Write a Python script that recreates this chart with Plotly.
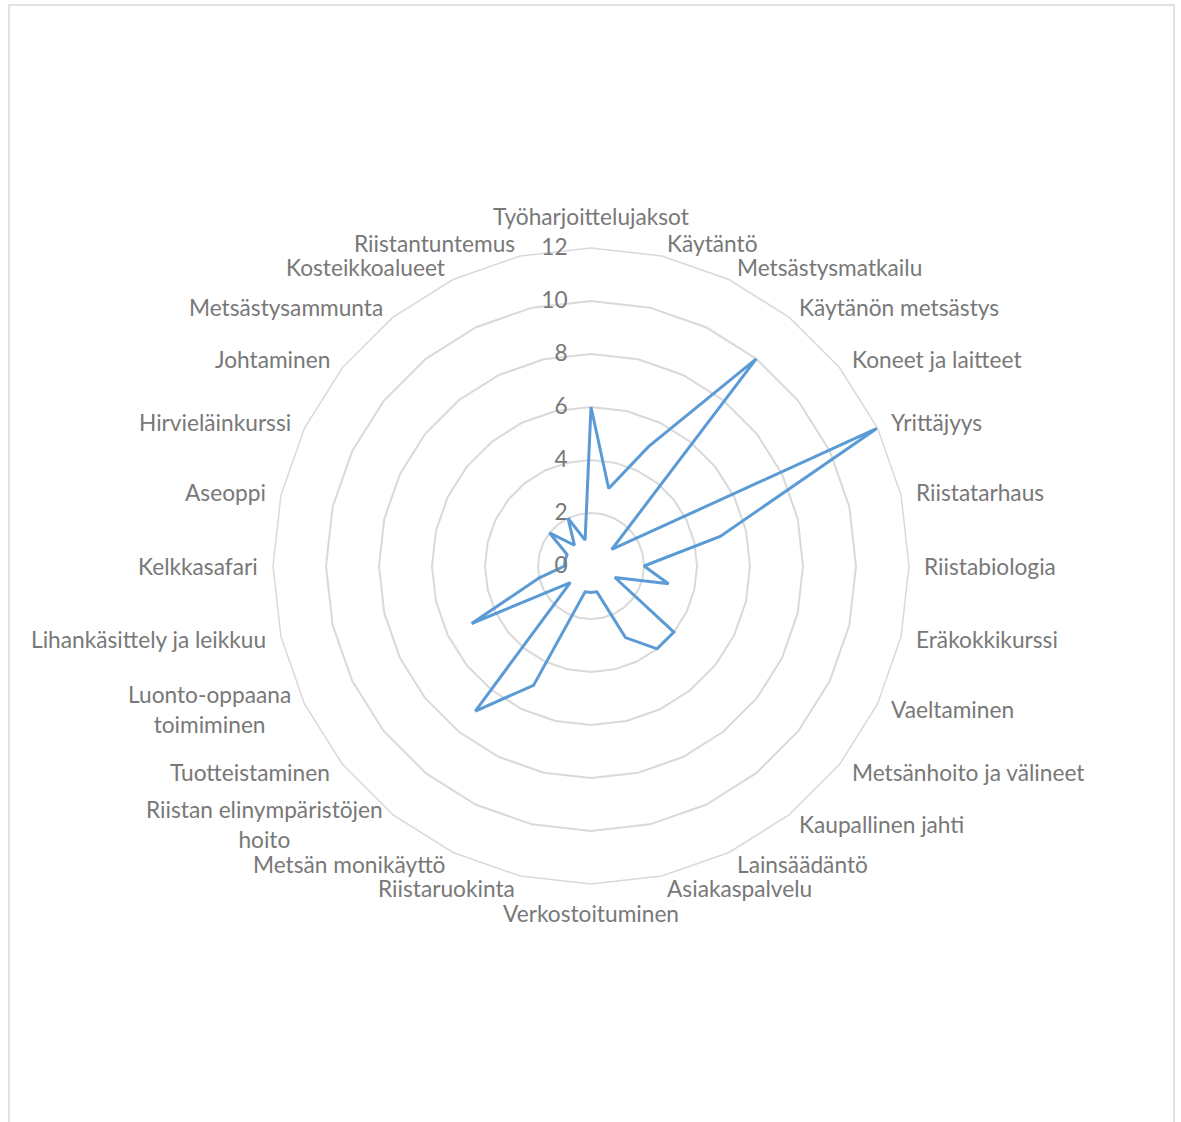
import math
import plotly.graph_objects as go

categories = [
    "Työharjoittelujaksot", "Käytäntö", "Metsästysmatkailu", "Käytänön metsästys",
    "Koneet ja laitteet", "Yrittäjyys", "Riistatarhaus", "Riistabiologia",
    "Eräkokkikurssi", "Vaeltaminen", "Metsänhoito ja välineet", "Kaupallinen jahti",
    "Lainsäädäntö", "Asiakaspalvelu", "Verkostoituminen", "Riistaruokinta",
    "Metsän monikäyttö", "Riistan elinympäristöjen<br>hoito", "Tuotteistaminen",
    "Luonto-oppaana<br>toimiminen", "Lihankäsittely ja leikkuu", "Kelkkasafari",
    "Aseoppi", "Hirvieläinkurssi", "Johtaminen", "Metsästysammunta",
    "Kosteikkoalueet", "Riistantuntemus",
]
values = [6, 3, 5, 10, 1, 12, 5, 2, 3, 1, 4, 4, 3, 1, 1, 1, 5, 7, 1, 5, 2, 1, 1, 1, 2, 1, 2, 1]
radial_ticks = [0, 2, 4, 6, 8, 10, 12]

W, H = 1181, 1122
cx, cy, R = 591, 566, 318
text_color = "#787878"
font_family = "Lato, 'Open Sans', sans-serif"
label_size = 22.7

fig = go.Figure()
fig.add_trace(go.Scatterpolar(
    r=values + values[:1],
    theta=categories + categories[:1],
    mode="lines",
    line=dict(color="#5b9bd5", width=3),
    showlegend=False,
    hoverinfo="skip",
))

# category labels placed just outside the outer polygon, Excel-style
annotations = []
n = len(categories)
for i, cat in enumerate(categories):
    ang = 360.0 * i / n
    a = math.radians(ang)
    if i == 0:
        d, xa, ya = 16, "center", "bottom"
    elif 2 * i == n:
        d, xa, ya = 14, "center", "top"
    else:
        d = 13
        xa = "left" if ang < 180 else "right"
        ya = "middle"
    px = cx + (R + d) * math.sin(a)
    py = cy - (R + d) * math.cos(a)
    annotations.append(dict(
        text=cat, x=px / W, y=1 - py / H, xref="paper", yref="paper",
        xanchor=xa, yanchor=ya, align="center", showarrow=False,
        font=dict(size=label_size, color=text_color, family=font_family),
    ))

fig.update_layout(
    width=W, height=H,
    margin=dict(l=0, r=0, t=0, b=0),
    paper_bgcolor="white",
    plot_bgcolor="white",
    font=dict(family=font_family, size=label_size, color=text_color),
    polar=dict(
        domain=dict(x=[(cx - R) / W, (cx + R) / W],
                    y=[(H - cy - R) / H, (H - cy + R) / H]),
        bgcolor="white",
        gridshape="linear",
        angularaxis=dict(
            direction="clockwise",
            rotation=90,
            showgrid=False,
            showline=True,
            linecolor="#d9d9d9",
            linewidth=1.5,
            ticks="",
            showticklabels=False,
        ),
        radialaxis=dict(
            range=[0, 12],
            tickvals=radial_ticks,
            ticktext=[str(v) for v in radial_ticks],
            showline=False,
            ticks="outside",
            ticklen=15,
            tickcolor="rgba(0,0,0,0)",
            tickangle=90,
            angle=90,
            side="counterclockwise",
            gridcolor="#d9d9d9",
            gridwidth=1.5,
            tickfont=dict(size=label_size, color=text_color, family=font_family),
        ),
    ),
    annotations=annotations,
    shapes=[dict(type="rect", xref="paper", yref="paper",
                 x0=9 / W, x1=1174 / W, y0=-0.02, y1=1 - 5 / H,
                 line=dict(color="#d9d9d9", width=1.5))],
)

fig.write_html("out.html", config={"displayModeBar": False},
               post_script="document.body.style.margin='0';")
